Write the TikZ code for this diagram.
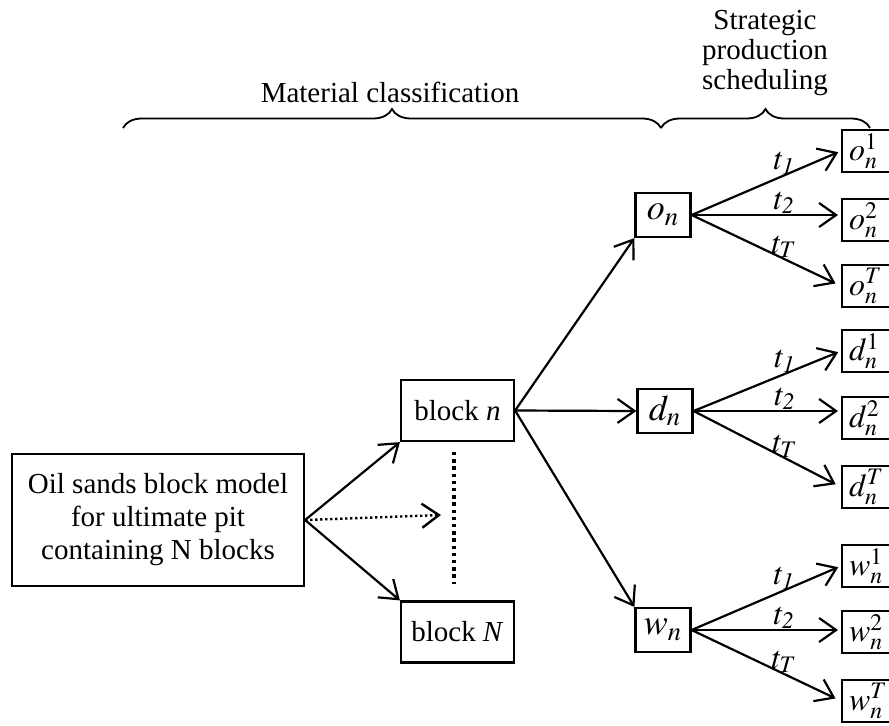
\documentclass[tikz,border=0pt]{standalone}
\usepackage{mathptmx}
\usepackage{fontspec}
\setmainfont{Liberation Serif}
\usetikzlibrary{arrows.meta,decorations.pathreplacing,positioning}

\begin{document}
\begin{tikzpicture}[
    x=0.5pt, y=-0.5pt,
    >={Straight Barb[length=8.5pt,width=12pt]},
    font=\fontsize{14.5}{16.5}\selectfont,
    line width=1.1pt,
    source/.style={
		rectangle,
		draw=black,
		align=center,
		minimum width=146pt,
		minimum height=66pt
	},
    block/.style={
		rectangle,
		draw=black,
		text centered,
		minimum width=56.5pt,
		minimum height=30.5pt
	},
    material/.style={
		rectangle,
		draw=black,
		text centered,
		inner sep=1pt,
		font=\fontsize{18}{20}\selectfont,
		minimum width=27.5pt,
		minimum height=22pt
	},
    period/.style={
		rectangle,
		draw=black,
		anchor=west,
		inner xsep=3.5pt,
		inner ysep=0pt,
		text width=24pt,
		align=left,
		font=\fontsize{16}{18}\selectfont,
		minimum height=21pt
	},
	tlabel/.style={
		above,
		pos=0.62,
		inner sep=0pt,
		font=\fontsize{16}{18}\selectfont
	},
	bracket/.style={
		decorate,
		decoration={brace, amplitude=9.5pt},
		line width=0.9pt
	},
	dots/.style={
		line width=1.2pt,
		dash pattern=on 1.2pt off 1.3pt
	}
  ]
  \useasboundingbox (0,0) rectangle (889,725);

    % We start by placing the blocks
  \node [source] (model) at (158,520) {Oil sands block model\\for ultimate pit\\containing N blocks};

  \node [block] (blockn) at (457.5,410.5) {block \textit{n}};
  \node [block] (blockN) at (457.5,632) {block \textit{N}};

  \node [material] (on) at (663,215) {$o_{n}$};
  \node [material] (dn) at (665,411) {$d_{n}$};
  \node [material] (wn) at (663,630) {$w_{n}$};

  \node [period] (o1) at (841,151) {$o^{1}_{n}$};
  \node [period] (o2) at (841,220) {$o^{2}_{n}$};
  \node [period] (oT) at (841,286) {$o^{T}_{n}$};
  \node [period] (d1) at (841,351) {$d^{1}_{n}$};
  \node [period] (d2) at (841,418) {$d^{2}_{n}$};
  \node [period] (dT) at (841,487) {$d^{T}_{n}$};
  \node [period] (w1) at (841,566) {$w^{1}_{n}$};
  \node [period] (w2) at (841,632) {$w^{2}_{n}$};
  \node [period] (wT) at (841,701) {$w^{T}_{n}$};

    % headings and braces
  \node (matlabel) at (390,92) {Material classification};
  \node [align=center, font=\fontsize{14.5}{15}\selectfont] (stratlabel) at (765,53) {Strategic\\production\\scheduling};

  \coordinate (matl) at (123,128);
  \coordinate (matr) at (661,128);
  \coordinate (strr) at (870,128);
  \draw [bracket] (matl) -- (matr);
  \draw [bracket] (matr) -- (strr);

    % block model to blocks
  \coordinate (dotend) at (441,515);
  \coordinate (dottop) at (454,452);
  \coordinate (dotbot) at (454,584);
  \draw [->] (model.east) -- (blockn.south west);
  \draw [->] (model.east) -- (blockN.north west);
  \draw [->, dots] (model.east) -- (dotend);
  \draw [line width=1.6pt, dash pattern=on 1.7pt off 1.9pt] (dottop) -- (dotbot);

    % block to material types
  \draw [->] (blockn.east) -- (on.south west);
  \draw [->] (blockn.east) -- (dn.west);
  \draw [->] (blockn.east) -- (wn.north west);

    % material types to periods
  \draw [->, shorten >=1.5pt] (on.east) -- node [tlabel] {$t_{\mathit{1}}$} (o1.west);
  \draw [->, shorten >=1.5pt] (on.east) -- node [tlabel] {$t_{\mathit{2}}$} (on.east -| o2.west);
  \draw [->, shorten >=3pt] (on.east) -- node [tlabel] {$t_{T}$} (oT.west);

  \draw [->, shorten >=1.5pt] (dn.east) -- node [tlabel] {$t_{\mathit{1}}$} (d1.west);
  \draw [->, shorten >=1.5pt] (dn.east) -- node [tlabel] {$t_{\mathit{2}}$} (dn.east -| d2.west);
  \draw [->, shorten >=3pt] (dn.east) -- node [tlabel] {$t_{T}$} (dT.west);

  \draw [->, shorten >=1.5pt] (wn.east) -- node [tlabel] {$t_{\mathit{1}}$} (w1.west);
  \draw [->, shorten >=1.5pt] (wn.east) -- node [tlabel] {$t_{\mathit{2}}$} (wn.east -| w2.west);
  \draw [->, shorten >=3pt] (wn.east) -- node [tlabel] {$t_{T}$} (wT.west);

\end{tikzpicture}
\end{document}
